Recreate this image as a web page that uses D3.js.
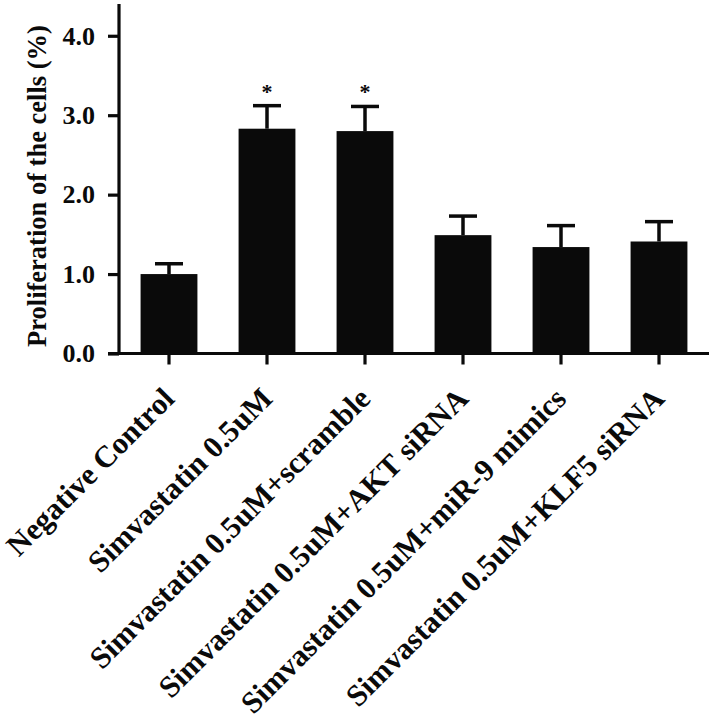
<!DOCTYPE html>
<html><head><meta charset="utf-8">
<script src="https://cdn.jsdelivr.net/npm/d3@7"></script>
<style>body{margin:0;background:#fff}</style>
</head><body>
<svg id="c" width="709" height="720"></svg>
<script>
const categories = ["Negative Control","Simvastatin 0.5uM","Simvastatin 0.5uM+scramble","Simvastatin 0.5uM+AKT siRNA","Simvastatin 0.5uM+miR-9 mimics","Simvastatin 0.5uM+KLF5 siRNA"];
const means = [1.00, 2.83, 2.80, 1.49, 1.34, 1.41];
const errors = [0.13, 0.29, 0.31, 0.24, 0.27, 0.25];
const significance = ["", "*", "*", "", "", ""];
const yTicks = [0, 1, 2, 3, 4];
const yTitle = "Proliferation of the cells (%)";

const svg = d3.select("#c");
const font = "'Liberation Serif','Times New Roman',serif";
const x = d3.scaleBand().domain(categories).range([120, 708]).paddingInner(0.42).paddingOuter(0.21);
const y = d3.scaleLinear().domain([0, 4.4]).range([353.5, 4]);

// bars
svg.selectAll("rect.bar").data(categories).enter().append("rect")
  .attr("x", d => x(d)).attr("width", x.bandwidth())
  .attr("y", (d,i) => y(means[i])).attr("height", (d,i) => y(0) - y(means[i]))
  .attr("fill", "#0a0a0a");

// error bars
const eb = svg.append("g").attr("stroke", "#0a0a0a").attr("stroke-width", 3.5);
categories.forEach((c,i) => {
  const cx = x(c) + x.bandwidth()/2;
  eb.append("line").attr("x1", cx).attr("x2", cx).attr("y1", y(means[i])).attr("y2", y(means[i]+errors[i]));
  eb.append("line").attr("x1", cx-14).attr("x2", cx+14).attr("y1", y(means[i]+errors[i])).attr("y2", y(means[i]+errors[i]));
});

// significance
svg.selectAll("text.sig").data(categories).enter().append("text")
  .attr("x", d => x(d) + x.bandwidth()/2)
  .attr("y", (d,i) => y(means[i]+errors[i]) - 7)
  .attr("text-anchor", "middle").attr("font-family", font).attr("font-weight", "bold")
  .attr("font-size", 22).attr("fill", "#0a0a0a")
  .text((d,i) => significance[i]);

// y axis
const ya = svg.append("g").attr("transform", "translate(119,0)")
  .call(d3.axisLeft(y).tickValues(yTicks).tickFormat(d3.format(".1f")).tickSize(11).tickPadding(13));
ya.select(".domain").attr("stroke", "#0a0a0a").attr("stroke-width", 3.2).attr("d", `M0,${y(4.4)}V${y(0)}`);
ya.selectAll(".tick line").attr("stroke", "#0a0a0a").attr("stroke-width", 3.2);
ya.selectAll(".tick text").attr("font-family", font).attr("font-weight", "bold").attr("font-size", 26).attr("fill", "#0a0a0a");

// x axis
const xa = svg.append("g").attr("transform", `translate(0,${y(0)})`)
  .call(d3.axisBottom(x).tickSize(11).tickFormat(""));
xa.select(".domain").attr("stroke", "#0a0a0a").attr("stroke-width", 3.2).attr("d", "M108,0H709");
xa.selectAll(".tick line").attr("stroke", "#0a0a0a").attr("stroke-width", 3.2);
xa.selectAll(".tick").append("text")
  .attr("text-anchor", "end").attr("font-family", font).attr("font-weight", "bold")
  .attr("font-size", 30.5).attr("fill", "#0a0a0a")
  .attr("transform", "translate(7,47) rotate(-45)")
  .text(d => d);

// y title
svg.append("text")
  .attr("transform", `translate(46,186) rotate(-90)`)
  .attr("text-anchor", "middle").attr("font-family", font).attr("font-weight", "bold")
  .attr("font-size", 26.5).attr("fill", "#0a0a0a")
  .text(yTitle);
</script>
</body></html>
